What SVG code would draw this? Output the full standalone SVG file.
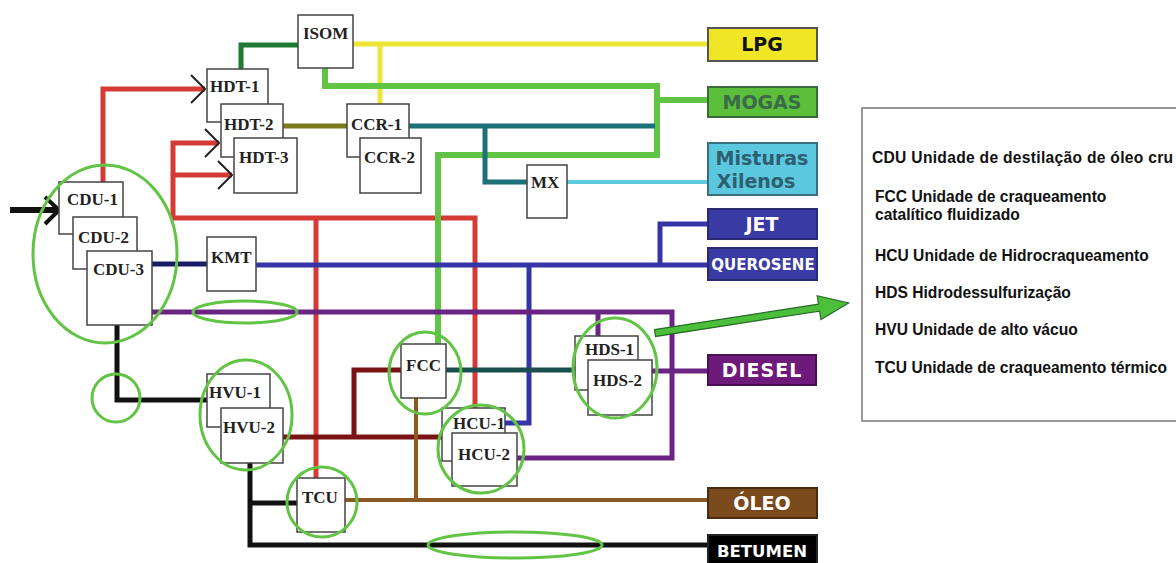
<svg xmlns="http://www.w3.org/2000/svg" width="1176" height="563" viewBox="0 0 1176 563">
<style>
.box{fill:#fff;stroke:#444;stroke-width:1.5}
.nt{font-family:"Liberation Serif","DejaVu Serif",serif;font-weight:bold;font-size:17px;fill:#222}
.ln{fill:none;stroke-linejoin:miter;stroke-linecap:butt}
.hl{fill:none;stroke:#62c444;stroke-width:3}
.pt{font-family:"DejaVu Sans",sans-serif;font-weight:bold;text-anchor:middle}
.lg{font-family:"Liberation Sans",Arial,sans-serif;font-weight:bold;font-size:15.6px;fill:#111}
</style>
<defs>
<marker id="chev" viewBox="-16 -16 18 32" refX="0" refY="0" markerWidth="18" markerHeight="32" markerUnits="userSpaceOnUse" orient="auto">
<path d="M-14,-14 L0,0 L-14,14" fill="none" stroke="#222" stroke-width="2"/>
</marker>
</defs>
<rect width="1176" height="563" fill="#fff"/>
<g id="connectors">
<!-- input -->
<path class="ln" d="M10,210 H57" stroke="#111" stroke-width="6"/>
<path d="M45,197 L59,210 L45,224" fill="none" stroke="#111" stroke-width="4"/>
<!-- red -->
<path class="ln" d="M103,182 V89 H205" stroke="#d63a35" stroke-width="5" marker-end="url(#chev)"/>
<path class="ln" d="M173,218 V143 H219" stroke="#d63a35" stroke-width="5" marker-end="url(#chev)"/>
<path class="ln" d="M173,175 H232" stroke="#d63a35" stroke-width="5" marker-end="url(#chev)"/>
<path class="ln" d="M171,218 H475 V408" stroke="#d63a35" stroke-width="5"/>
<path class="ln" d="M316,218 V478" stroke="#d63a35" stroke-width="5"/>
<!-- dark green -->
<path class="ln" d="M241,69 V45 H298" stroke="#1e7a32" stroke-width="5"/>
<!-- yellow -->
<path class="ln" d="M353,44 H708" stroke="#eee637" stroke-width="5"/>
<path class="ln" d="M380,44 V104" stroke="#eee637" stroke-width="5"/>
<!-- light green -->
<path class="ln" d="M325,68 V86 H657 V155 H438 V344" stroke="#62c444" stroke-width="6"/>
<path class="ln" d="M657,100 H708" stroke="#62c444" stroke-width="6"/>
<!-- teal -->
<path class="ln" d="M409,126 H655" stroke="#1d6f78" stroke-width="5"/>
<path class="ln" d="M485,126 V182 H527" stroke="#1d6f78" stroke-width="5"/>
<!-- cyan -->
<path class="ln" d="M567,182 H708" stroke="#5ccbe0" stroke-width="4"/>
<!-- olive -->
<path class="ln" d="M283,126 H347" stroke="#7d7a1e" stroke-width="5"/>
<!-- navy / blue -->
<path class="ln" d="M152,264 H207" stroke="#1c1a66" stroke-width="5"/>
<path class="ln" d="M256,265 H708" stroke="#3535a8" stroke-width="5"/>
<path class="ln" d="M660,265 V224 H708" stroke="#3535a8" stroke-width="5"/>
<path class="ln" d="M529,265 V423 H505" stroke="#3535a8" stroke-width="5"/>
<!-- purple -->
<path class="ln" d="M152,312 H672 V458 H517" stroke="#6c2484" stroke-width="5"/>
<path class="ln" d="M598,312 V336" stroke="#6c2484" stroke-width="5"/>
<path class="ln" d="M652,371 H708" stroke="#6c2484" stroke-width="5"/>
<!-- dark teal -->
<path class="ln" d="M446,370 H575" stroke="#1b4e4e" stroke-width="5"/>
<!-- maroon -->
<path class="ln" d="M283,437 H442" stroke="#7a1414" stroke-width="5"/>
<path class="ln" d="M354,437 V370 H401" stroke="#7a1414" stroke-width="5"/>
<!-- brown -->
<path class="ln" d="M345,500 H708" stroke="#8b5a22" stroke-width="4"/>
<path class="ln" d="M416,398 V500" stroke="#8b5a22" stroke-width="4"/>
<!-- black -->
<path class="ln" d="M117,325 V400 H207" stroke="#111" stroke-width="5"/>
<path class="ln" d="M250,463 V545 H708" stroke="#111" stroke-width="5"/>
<path class="ln" d="M250,503 H297" stroke="#111" stroke-width="5"/>
</g>
<g id="ISOM"><rect class="box" x="298" y="15" width="55" height="53"/><text class="nt" x="303" y="39">ISOM</text></g>
<g id="HDT-1"><rect class="box" x="207" y="69" width="61" height="53"/><text class="nt" x="210" y="92">HDT-1</text></g>
<g id="HDT-2"><rect class="box" x="221" y="104" width="62" height="53"/><text class="nt" x="224" y="130">HDT-2</text></g>
<g id="HDT-3"><rect class="box" x="234" y="138" width="63" height="55"/><text class="nt" x="239" y="163">HDT-3</text></g>
<g id="CCR-1"><rect class="box" x="347" y="104" width="62" height="53"/><text class="nt" x="351" y="130">CCR-1</text></g>
<g id="CCR-2"><rect class="box" x="360" y="138" width="61" height="55"/><text class="nt" x="364" y="163">CCR-2</text></g>
<g id="MX"><rect class="box" x="527" y="165" width="40" height="53"/><text class="nt" x="531" y="188">MX</text></g>
<g id="CDU-1"><rect class="box" x="59" y="182" width="64" height="52"/><text class="nt" x="67" y="205">CDU-1</text></g>
<g id="CDU-2"><rect class="box" x="73" y="217" width="64" height="52"/><text class="nt" x="78" y="243">CDU-2</text></g>
<g id="CDU-3"><rect class="box" x="87" y="251" width="65" height="74"/><text class="nt" x="93" y="275">CDU-3</text></g>
<g id="KMT"><rect class="box" x="207" y="237" width="49" height="54"/><text class="nt" x="211" y="263">KMT</text></g>
<g id="HVU-1"><rect class="box" x="207" y="374" width="63" height="53"/><text class="nt" x="209" y="398">HVU-1</text></g>
<g id="HVU-2"><rect class="box" x="221" y="408" width="62" height="55"/><text class="nt" x="223" y="433">HVU-2</text></g>
<g id="TCU"><rect class="box" x="297" y="478" width="48" height="54"/><text class="nt" x="302" y="503">TCU</text></g>
<g id="FCC"><rect class="box" x="401" y="344" width="45" height="54"/><text class="nt" x="406" y="371">FCC</text></g>
<g id="HCU-1"><rect class="box" x="442" y="408" width="63" height="53"/><text class="nt" x="453" y="429">HCU-1</text></g>
<g id="HCU-2"><rect class="box" x="452" y="433" width="65" height="53"/><text class="nt" x="458" y="460">HCU-2</text></g>
<g id="HDS-1"><rect class="box" x="575" y="336" width="63" height="54"/><text class="nt" x="585" y="355">HDS-1</text></g>
<g id="HDS-2"><rect class="box" x="588" y="360" width="64" height="55"/><text class="nt" x="593" y="386">HDS-2</text></g>
<g id="LPG"><rect x="708" y="28" width="109" height="33" fill="#f0e626" stroke="#555" stroke-width="2"/><text class="pt" x="762" y="51" font-size="19" fill="#111">LPG</text></g>
<g id="MOGAS"><rect x="708" y="87" width="109" height="30" fill="#5cbf3c" stroke="#3a6b3a" stroke-width="2"/><text class="pt" x="762" y="109" font-size="19" fill="#3b6a48">MOGAS</text></g>
<g id="Misturas"><rect x="708" y="143" width="109" height="52" fill="#5bc8e0" stroke="#3a6f80" stroke-width="2"/><text class="pt" x="762" y="165" font-size="19" fill="#2f5f6e">Misturas</text><text class="pt" x="756" y="188" font-size="19" fill="#2f5f6e">Xilenos</text></g>
<g id="JET"><rect x="708" y="209" width="109" height="30" fill="#3a3aa5" stroke="#2a2a70" stroke-width="2"/><text class="pt" x="762" y="231" font-size="19" fill="#fff">JET</text></g>
<g id="QUEROSENE"><rect x="708" y="248" width="109" height="32" fill="#3a3aa5" stroke="#2a2a70" stroke-width="2"/><text class="pt" x="763" y="270" font-size="15" fill="#fff">QUEROSENE</text></g>
<g id="DIESEL"><rect x="708" y="355" width="108" height="30" fill="#6e1a7a" stroke="#4a1050" stroke-width="2"/><text class="pt" x="762" y="377" font-size="19" fill="#fff" letter-spacing="1">DIESEL</text></g>
<g id="OLEO"><rect x="708" y="488" width="109" height="30" fill="#7a4a1c" stroke="#4a2a10" stroke-width="2"/><text class="pt" x="762" y="510" font-size="19" fill="#fff">ÓLEO</text></g>
<g id="BETUMEN"><rect x="708" y="535" width="109" height="30" fill="#000" stroke="#222" stroke-width="2"/><text class="pt" x="762" y="557" font-size="16.5" fill="#fff">BETUMEN</text></g>
<g id="highlights">
<ellipse class="hl" cx="105" cy="254" rx="72" ry="89"/>
<ellipse class="hl" cx="245" cy="312" rx="52" ry="11"/>
<ellipse class="hl" cx="116" cy="398" rx="24" ry="24"/>
<ellipse class="hl" cx="246" cy="415" rx="46" ry="55"/>
<ellipse class="hl" cx="425" cy="373" rx="36" ry="41"/>
<ellipse class="hl" cx="481" cy="449" rx="43" ry="44"/>
<ellipse class="hl" cx="615" cy="368" rx="42" ry="50"/>
<ellipse class="hl" cx="322" cy="502" rx="35" ry="35"/>
<ellipse class="hl" cx="515" cy="545" rx="87" ry="13"/>
</g>
<g id="pointer">
<g transform="translate(655,333) rotate(-8.8)">
<path d="M0,-3.5 H166 V-12 L196,0 L166,12 V3.5 H0 Z" fill="#4cbf3a" stroke="#2a6a2a" stroke-width="1.2"/>
</g>
</g>
<g id="legend">
<rect x="862" y="108" width="330" height="313" fill="#fff" stroke="#777" stroke-width="1.5"/>
<text class="lg" x="872" y="163" letter-spacing="0.3">CDU Unidade de destilação de óleo cru</text>
<text class="lg" x="875" y="202">FCC Unidade de craqueamento</text>
<text class="lg" x="875" y="220">catalítico fluidizado</text>
<text class="lg" x="875" y="261">HCU Unidade de Hidrocraqueamento</text>
<text class="lg" x="875" y="298">HDS Hidrodessulfurização</text>
<text class="lg" x="875" y="335">HVU Unidade de alto vácuo</text>
<text class="lg" x="875" y="373">TCU Unidade de craqueamento térmico</text>
</g>
</svg>
